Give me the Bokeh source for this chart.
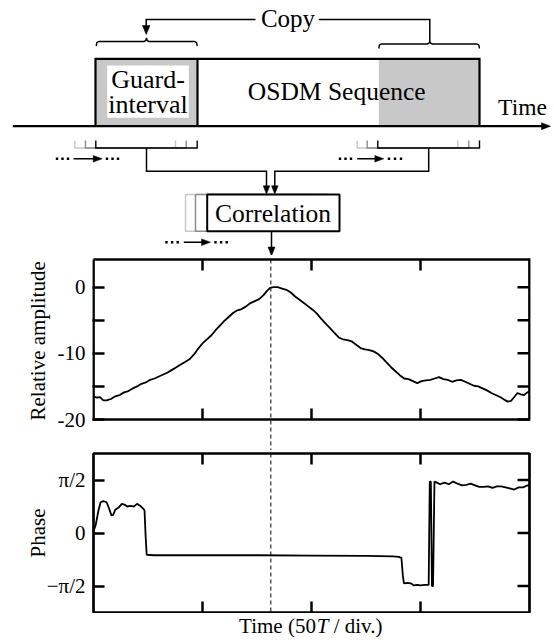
import numpy as np
from bokeh.plotting import figure
from bokeh.layouts import column
from bokeh.models import Range1d, FixedTicker, LinearAxis, Span, Grid
from bokeh.core.properties import value
from bokeh.embed import file_html
from bokeh.resources import INLINE

SERIF = "Liberation Serif"

# ---------------- data ----------------
amp_t = [0.00, 0.03, 0.06, 0.09, 0.12, 0.16, 0.20, 0.24, 0.28, 0.32, 0.36, 0.40, 0.44, 0.48,
         0.52, 0.56, 0.60, 0.64, 0.68, 0.72, 0.76, 0.80, 0.84, 0.88, 0.92, 0.96, 1.00, 1.04,
         1.08, 1.12, 1.16, 1.20, 1.24, 1.28, 1.32, 1.36, 1.40, 1.44, 1.48, 1.52, 1.56, 1.59,
         1.62, 1.65, 1.69, 1.73, 1.77, 1.81, 1.85, 1.89, 1.93, 1.97, 2.01, 2.05, 2.09, 2.13,
         2.17, 2.21, 2.25, 2.29, 2.33, 2.37, 2.41, 2.45, 2.49, 2.53, 2.57, 2.61, 2.65, 2.69,
         2.73, 2.77, 2.81, 2.85, 2.89, 2.93, 2.97, 3.01, 3.05, 3.09, 3.13, 3.17, 3.21, 3.25,
         3.29, 3.33, 3.37, 3.41, 3.45, 3.49, 3.53, 3.57, 3.61, 3.65, 3.69, 3.73, 3.77, 3.80,
         3.83, 3.86, 3.89, 3.92, 3.95, 3.98, 4.00]
amp_db = [-16.5, -16.7, -16.6, -17.1, -17.1, -16.9, -16.5, -16.3, -15.9, -15.7, -15.3, -15.0,
          -14.6, -14.4, -14.0, -13.8, -13.5, -13.2, -12.9, -12.5, -12.1, -11.7, -11.3, -10.9,
          -10.2, -9.3, -8.5, -7.9, -7.3, -6.5, -5.8, -5.1, -4.5, -3.9, -3.5, -3.3, -2.9, -2.4,
          -2.1, -1.8, -1.2, -0.6, -0.1, 0.0, 0.0, -0.2, -0.4, -0.8, -1.4, -1.9, -2.4, -2.9,
          -3.4, -4.0, -4.8, -5.5, -6.2, -6.9, -7.6, -7.9, -8.0, -8.2, -8.7, -9.2, -9.4, -9.5,
          -9.7, -10.1, -10.7, -11.4, -12.1, -12.7, -13.3, -13.8, -13.9, -14.2, -14.5, -14.2,
          -14.1, -14.0, -13.8, -13.6, -13.9, -14.0, -14.3, -14.1, -14.0, -14.3, -14.6, -14.9,
          -15.0, -15.3, -15.6, -16.0, -16.3, -16.6, -17.0, -17.3, -17.2, -16.6, -16.0, -16.2,
          -16.3, -15.9, -15.8]

phase_t = [0.000, 0.020, 0.045, 0.065, 0.090, 0.120, 0.145, 0.165, 0.180, 0.200, 0.230, 0.260,
           0.290, 0.310, 0.340, 0.370, 0.400, 0.430, 0.455, 0.468, 0.478, 0.488, 0.550, 1.000,
           1.500, 2.000, 2.500, 2.750, 2.800, 2.825, 2.838, 2.848, 2.880, 2.910, 2.940, 2.970,
           3.000, 3.040, 3.075, 3.085, 3.095, 3.105, 3.115, 3.128, 3.150, 3.180, 3.220, 3.260,
           3.300, 3.340, 3.380, 3.420, 3.460, 3.500, 3.540, 3.580, 3.620, 3.660, 3.700, 3.740,
           3.780, 3.820, 3.860, 3.900, 3.940, 3.970, 4.000]
# phase in units of pi/2
phase_hp = [0.03, 0.15, 0.42, 0.58, 0.60, 0.58, 0.45, 0.33, 0.34, 0.44, 0.48, 0.55,
            0.53, 0.50, 0.51, 0.50, 0.55, 0.51, 0.46, 0.43, -0.05, -0.41, -0.42, -0.42,
            -0.42, -0.425, -0.43, -0.44, -0.45, -0.47, -0.80, -0.95, -0.94, -0.95, -0.99, -0.98,
            -0.99, -0.98, -0.98, 0.97, 0.97, -1.00, -1.00, 0.97, 0.95, 0.92, 0.95, 0.92,
            0.97, 0.93, 0.90, 0.91, 0.93, 0.90, 0.87, 0.87, 0.88, 0.85, 0.88, 0.88,
            0.86, 0.84, 0.82, 0.86, 0.86, 0.89, 0.91]

T_MARK = 1.627
time_ticks = [1, 2, 3]
amp_ticks = [-20, -15, -10, -5, 0]
amp_labels = {0: "0", -5: "", -10: "-10", -15: "", -20: "-20"}
AMP_TOP = 4.187
phase_ticks = [-1, 0, 1]
phase_labels = {1: "π/2", 0: "0", -1: "−π/2"}

GRAY = "#c8c8c8"
MID = "#8c8c8c"
W = 554
TK = 2.5  # tick width


def clean(p):
    p.center = [c for c in p.center if not isinstance(c, Grid)]
    p.background_fill_color = "white"
    p.border_fill_color = "white"


def left_axis(p, ticks, overrides, standoff, tick_in, title, title_standoff):
    ax = LinearAxis()
    ax.ticker = FixedTicker(ticks=ticks)
    ax.axis_line_color = None
    ax.major_tick_in = tick_in
    ax.major_tick_out = 0
    ax.major_tick_line_width = TK
    ax.major_tick_line_color = "black"
    ax.minor_tick_line_color = None
    ax.major_label_overrides = overrides
    ax.major_label_text_font = SERIF
    ax.major_label_text_font_size = "21px"
    ax.major_label_text_color = "black"
    ax.major_label_standoff = standoff
    ax.axis_label = title
    ax.axis_label_text_font = SERIF
    ax.axis_label_text_font_size = "21px"
    ax.axis_label_text_font_style = "normal"
    ax.axis_label_text_color = "black"
    ax.axis_label_standoff = title_standoff
    p.add_layout(ax, "left")


def frame_ticks(p, yticks, x_right, dx, y_top, y_bottom, dy_top, dy_bottom):
    p.segment(x0=[x_right] * len(yticks), x1=[x_right - dx] * len(yticks), y0=yticks, y1=yticks,
              line_color="black", line_width=TK)
    n = len(time_ticks)
    p.segment(x0=time_ticks, x1=time_ticks, y0=[y_top] * n, y1=[y_top - dy_top] * n,
              line_color="black", line_width=TK)
    p.segment(x0=time_ticks, x1=time_ticks, y0=[y_bottom] * n, y1=[y_bottom + dy_bottom] * n,
              line_color="black", line_width=TK)


# ---------------- diagram ----------------
d = figure(width=W, height=255, x_range=Range1d(0, 554), y_range=Range1d(255, 0),
           output_backend="svg", toolbar_location=None, min_border_left=0,
           min_border_right=0, min_border_top=0, min_border_bottom=0,
           x_axis_location=None, y_axis_location=None, frame_align=False)
d.outline_line_color = None
clean(d)

d.quad(left=[95, 378.3], right=[197, 479], top=[58.3, 58.3], bottom=[125.7, 125.7],
       fill_color=GRAY, line_color=None)
d.quad(left=[106.7], right=[188.3], top=[65], bottom=[117.3], fill_color="white", line_color=None)

BL = 9.0  # baseline correction


def txt(fig, x, y, s, size, align="center", style="normal"):
    fig.text(x=[x], y=[y - BL], text=[s], text_font=value(SERIF), text_font_size=value(size),
             text_align=align, text_baseline="alphabetic", text_color="black",
             text_font_style=style)


txt(d, 287.5, 26.7, "Copy", "25px")
txt(d, 147.5, 88.3, "Guard-", "26px")
txt(d, 147.5, 113.0, "interval", "26px")
txt(d, 336.2, 100.3, "OSDM Sequence", "25.5px")
txt(d, 522.0, 115.0, "Time", "23.5px")

d.multi_line(xs=[[95, 95, 479, 479], [197, 197]], ys=[[125.7, 58.3, 58.3, 125.7], [58.3, 125.7]],
             line_color="black", line_width=2.2, line_join="miter")
d.line(x=[12.3, 543], y=[125.7, 125.7], line_color="black", line_width=2.2)


def arrowhead(x, y, direction, length=9, half=3.5):
    if direction == "right":
        xs, ys = [x, x - length, x - length], [y, y - half, y + half]
    else:
        xs, ys = [x, x - half, x + half], [y, y - length, y - length]
    d.patch(x=xs, y=ys, fill_color="black", line_color="black", line_width=0.5)


arrowhead(550, 125.7, "right", 9, 3.5)


def brace(x0, x1, yb, ye, yt, xc):
    xs = [x0, x0 + 0.6, x0 + 2.5, xc - 2.5, xc - 0.8, xc, xc + 0.8, xc + 2.5, x1 - 2.5, x1 - 0.6, x1]
    ys = [ye, yb + 1.2, yb, yb, yb - 0.8, yt, yb - 0.8, yb, yb, yb + 1.2, ye]
    d.line(x=xs, y=ys, line_color="black", line_width=1.4)


brace(95.7, 196.7, 41.0, 45.5, 37.5, 146.0)
brace(378.3, 479.0, 43.5, 48.0, 40.5, 429.3)

d.multi_line(xs=[[145.7, 145.7, 255], [318.3, 429.3, 429.3]], ys=[[26, 19, 19], [19, 19, 40.5]],
             line_color="black", line_width=1.5, line_join="miter")
arrowhead(145.7, 34.0, "down", 9, 3.8)


def bracket(l, r, color):
    d.line(x=[l, l, r, r], y=[140, 147.5, 147.5, 140], line_color=color, line_width=1.4,
           line_join="miter")


for (l, r), c in zip([(74.3, 175.0), (85.0, 185.7), (95.3, 196.7)], [GRAY, MID, "black"]):
    bracket(l, r, c)
for (l, r), c in zip([(356.7, 457.3), (366.7, 468.3), (377.3, 479.0)], [GRAY, MID, "black"]):
    bracket(l, r, c)

d.multi_line(xs=[[146, 146, 266, 266], [428.2, 428.2, 274.3, 274.3]],
             ys=[[147.5, 170.7, 170.7, 187], [147.5, 170.7, 170.7, 187]],
             line_color="black", line_width=1.5, line_join="miter")
arrowhead(266, 193.8, "down", 8.5, 3.3)
arrowhead(274.3, 193.8, "down", 8.5, 3.3)

d.quad(left=[185.0], right=[317.3], top=[194], bottom=[230.7], fill_color="white",
       line_color=GRAY, line_width=1.5)
d.quad(left=[195.0], right=[327.3], top=[194], bottom=[230.7], fill_color="white",
       line_color=MID, line_width=1.5)
d.quad(left=[206.7], right=[339.0], top=[194], bottom=[230.7], fill_color="white",
       line_color="black", line_width=2.0)
txt(d, 272.5, 221.7, "Correlation", "25.5px")

d.line(x=[271, 271], y=[230.7, 248], line_color="black", line_width=1.5)
arrowhead(271, 255.5, "down", 9, 3.5)


def slide(x_dots1, xa0, xa1, x_dots2, y):
    d.scatter(x=x_dots1 + x_dots2, y=[y] * 6, marker="square", size=2.4,
              fill_color="black", line_color=None)
    d.line(x=[xa0, xa1 - 6], y=[y, y], line_color="black", line_width=1.6)
    arrowhead(xa1, y, "right", 9, 3.3)


slide([56.5, 62.0, 67.5], 73.0, 101.7, [106.5, 112.0, 117.5], 158.3)
slide([339.5, 345.0, 350.5], 356.7, 383.3, [388.5, 394.5, 400.5], 158.3)
slide([166.0, 171.6, 177.2], 183.3, 210.0, [215.0, 220.6, 226.2], 241.7)

# ---------------- amplitude plot (frame extends down through the gap) ----------------
PX = 109.0          # pixels per division
PY = 6.615          # pixels per dB
amp = figure(width=W, height=195,
             x_range=Range1d(-1 / PX, 4 + 1 / PX),
             y_range=Range1d(-20 - 31 / PY, -20 + 162 / PY),
             output_backend="svg", toolbar_location=None,
             min_border_left=92, min_border_right=24, min_border_top=2, min_border_bottom=0,
             x_axis_location=None, y_axis_location=None, frame_align=False)
amp.outline_line_color = None
clean(amp)
NB = "\u00a0" * 5
left_axis(amp, amp_ticks, amp_labels, 7, 12, NB + "Relative amplitude", 5)
frame_ticks(amp, amp_ticks, 4, 12 / PX, AMP_TOP, -20, 11 / PY, 11 / PY)
amp.line([0, 4, 4, 0, 0], [AMP_TOP, AMP_TOP, -20, -20, AMP_TOP], line_color="black",
         line_width=2.7, line_join="miter")
amp.segment(x0=[T_MARK], x1=[T_MARK], y0=[AMP_TOP], y1=[-20 - 31 / PY], line_color="black",
            line_width=1, line_dash="4 3")
amp.line(amp_t, amp_db, line_color="black", line_width=1.8)

# ---------------- phase plot ----------------
ph = figure(width=W, height=163, x_range=Range1d(0, 4), y_range=Range1d(-1.5, 1.5),
            output_backend="svg", toolbar_location=None,
            min_border_left=93, min_border_right=25, min_border_top=3, min_border_bottom=1,
            x_axis_location=None, y_axis_location=None, frame_align=False)
ph.outline_line_color = "black"
ph.outline_line_width = 2.7
clean(ph)
left_axis(ph, phase_ticks, phase_labels, 8, 11, "Phase", -6)
frame_ticks(ph, phase_ticks, 4, 12 / PX, 1.5, -1.5, 11 / 53.0, 11 / 53.0)
ph.add_layout(Span(location=T_MARK, dimension="height", line_color="black",
                   line_width=1, line_dash="4 3"))
ph.line(phase_t, phase_hp, line_color="black", line_width=1.8)

# ---------------- x-axis title ----------------
xl = figure(width=W, height=31, x_range=Range1d(0, 554), y_range=Range1d(644, 613),
            output_backend="svg", toolbar_location=None, min_border_left=0,
            min_border_right=0, min_border_top=0, min_border_bottom=0,
            x_axis_location=None, y_axis_location=None, frame_align=False)
xl.outline_line_color = None
clean(xl)
for x0, s, st in [(238.6, "Time (50", "normal"), (316.2, "T", "italic"),
                  (327.9, "\u00a0/ div.)", "normal")]:
    txt(xl, x0, 634.5, s, "21px", align="left", style=st)

layout = column(d, amp, ph, xl, spacing=0)
open("out.html", "w").write(file_html(layout, INLINE))
